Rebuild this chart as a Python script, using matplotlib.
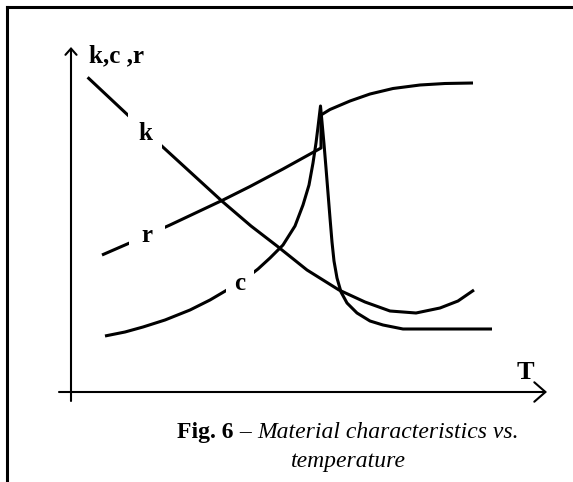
import matplotlib
matplotlib.use("Agg")
import matplotlib.pyplot as plt
from matplotlib.lines import Line2D

# ---- data (arbitrary units: T along x, value along y) ----
k_T = [16.6, 58.6, 87.8, 151.6, 180, 206, 236, 268, 294, 319, 345, 369, 387, 403]
k_V = [314.7, 275.3, 248.7, 190.3, 166, 146, 122, 102, 90, 81, 79, 84, 91, 102]

r_T = [31, 62, 99, 152, 179, 212, 250, 250, 259, 279, 299, 322, 349, 374, 402]
r_V = [137, 150.5, 167, 192, 205.5, 223, 244, 277, 282.5, 291, 298, 303.5, 307, 308.5, 309]

c_T = [34, 54, 72, 94, 119, 139, 156, 174, 187, 199, 212, 224, 232, 238, 242, 245, 247,
       249.5, 251, 253, 255, 257, 259, 261, 263, 266, 270, 276, 286, 299, 312, 332, 421]
c_V = [56, 60, 65, 72, 82, 92, 102, 113, 123, 134, 147, 166, 187, 207, 229, 249, 265,
       286, 270, 248, 224, 199, 174, 150, 131, 114, 100, 89, 79, 71, 67, 63, 63]

curve_labels = ["k", "r", "c"]
label_T = [74, 76, 169]
label_V = [252, 150, 102]

axis_y_label = "k,c ,r"
axis_x_label = "T"
caption_bold = "Fig. 6"
caption_dash = " \u2013 "
caption_italic = "Material characteristics vs."
caption_line2 = "temperature"

W, H = 573, 482
fig = plt.figure(figsize=(W / 100, H / 100), dpi=100)
fig.patch.set_facecolor("white")

serif = "Liberation Serif"

# frame (cropped box: top and left edges visible)
fig.add_artist(Line2D([7 / W, 1.0], [1 - 7 / H, 1 - 7 / H], color="black", lw=2.2,
                      transform=fig.transFigure))
fig.add_artist(Line2D([7 / W, 7 / W], [0.0, 1 - 7 / H], color="black", lw=2.2,
                      transform=fig.transFigure))

ax = fig.add_axes([71 / W, (H - 392) / H, 476 / W, 345 / H])
ax.set_xlim(0, 476)
ax.set_ylim(0, 345)
ax.axis("off")

# axes with arrows
ax.annotate("", xy=(476, 0), xytext=(-12, 0), annotation_clip=False,
            arrowprops=dict(arrowstyle="->,head_length=0.4,head_width=0.35",
                            lw=1.5, color="black", shrinkA=0, shrinkB=0,
                            mutation_scale=20))
ax.annotate("", xy=(0, 345), xytext=(0, -9), annotation_clip=False,
            arrowprops=dict(arrowstyle="->,head_length=0.45,head_width=0.4",
                            lw=1.5, color="black", shrinkA=0, shrinkB=0,
                            mutation_scale=10))

lw = 2.2
ax.plot(k_T, k_V, color="black", lw=lw, clip_on=False, solid_capstyle="butt")
ax.plot(r_T, r_V, color="black", lw=lw, clip_on=False, solid_capstyle="butt")
ax.plot(c_T, c_V, color="black", lw=lw, clip_on=False, solid_capstyle="butt")

pads = [0.4, 0.5, 0.35]
for lab, x, y, p in zip(curve_labels, label_T, label_V, pads):
    ax.text(x, y, lab, ha="center", va="baseline", family=serif, weight="bold",
            fontsize=18, zorder=5,
            bbox=dict(boxstyle="square,pad=%s" % p, fc="white", ec="none"))

ax.text(18, 329.5, axis_y_label, ha="left", va="baseline", family=serif,
        weight="bold", fontsize=18)
ax.text(454, 13, axis_x_label, ha="center", va="baseline", family=serif,
        weight="bold", fontsize=19)

# caption, line 1 with mixed styles, centred at x=348 px
fig.canvas.draw()
renderer = fig.canvas.get_renderer()
pieces = [(caption_bold, dict(weight="bold", style="normal")),
          (caption_dash, dict(weight="normal", style="normal")),
          (caption_italic, dict(weight="normal", style="italic"))]
texts = []
widths = []
for s, kw in pieces:
    t = fig.text(0, 0, s, family=serif, fontsize=17, va="baseline", ha="left", **kw)
    bb = t.get_window_extent(renderer)
    texts.append(t)
    widths.append(bb.width)
total = sum(widths)
x0 = 348 - total / 2
for t, w in zip(texts, widths):
    t.set_position((x0 / W, (H - 438) / H))
    x0 += w
fig.text(348 / W, (H - 467) / H, caption_line2, family=serif, fontsize=17,
         style="italic", ha="center", va="baseline")

fig.savefig("out.png", dpi=100, facecolor="white")
